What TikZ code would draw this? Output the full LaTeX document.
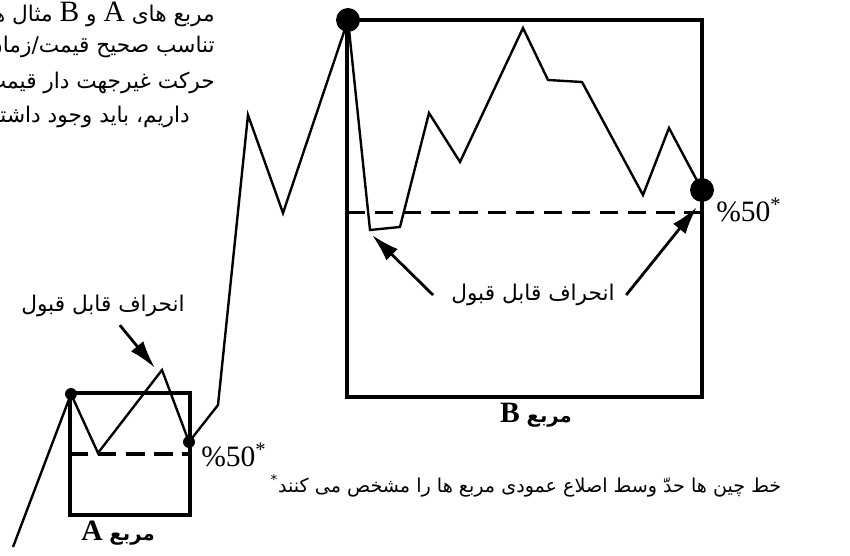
\documentclass[tikz,border=0pt]{standalone}
\usepackage{fontspec}
\setmainfont{Liberation Serif}
\newfontfamily\farsifont[Script=Arabic]{DejaVu Sans}
\TeXXeTstate=1
\usetikzlibrary{arrows.meta, calc}
\tikzset{
  square/.style={draw=black, line width=3.2pt, inner sep=0pt, outer sep=0pt},
  midline/.style={draw=black, line width=2.2pt, dash pattern=on 13pt off 7pt},
  price/.style={draw=black, line width=1.7pt, line join=miter},
  smalldot/.style={circle, fill=black, minimum size=8.5pt, inner sep=0pt},
  bigdot/.style={circle, fill=black, minimum size=17pt, inner sep=0pt},
  farsi/.style={font=\farsifont\fontsize{15.4}{18}\selectfont, inner sep=0pt},
  footnote/.style={font=\farsifont\fontsize{13.6}{16}\selectfont, inner sep=0pt},
  boxname/.style={font=\farsifont\bfseries\fontsize{14}{17}\selectfont, inner sep=0pt},
  pct/.style={font=\fontsize{21}{24}\selectfont, inner sep=0pt, anchor=west},
  arrow/.style={-{Latex[length=7mm, width=4mm]}, line width=2pt, draw=black}
}

\begin{document}
\begin{tikzpicture}[x=0.025cm, y=-0.025cm]
\useasboundingbox (0,0) rectangle (850,556);
\clip (0,0) rectangle (850,556);
\node[square, minimum width=3cm, minimum height=3.05cm] (boxA) at (130,454) {};
\node[square, minimum width=8.875cm, minimum height=9.425cm] (boxB) at (524.5,208.5) {};
\draw[midline] (boxA.west) -- (boxA.east);
\draw[midline] ([yshift=-0.11cm]boxB.west) -- ([yshift=-0.11cm]boxB.east);
\coordinate (p0) at (13,547);
\coordinate (a1) at (71,394);
\coordinate (p1) at (98,453);
\coordinate (p2) at (162,370);
\coordinate (a2) at (189,442);
\coordinate (p3) at (218,405);
\coordinate (p4) at (248,115);
\coordinate (p5) at (283,213);
\coordinate (b1) at (348,20);
\coordinate (p6) at (370,230);
\coordinate (p7) at (400,227);
\coordinate (p8) at (429,113);
\coordinate (p9) at (460,162);
\coordinate (p10) at (523,28);
\coordinate (p11) at (548,80);
\coordinate (p12) at (582,82);
\coordinate (p13) at (643,195);
\coordinate (p14) at (669,128);
\coordinate (b2) at (702,190);
\draw[price] (p0) -- (a1) -- (p1) -- (p2) -- (a2) -- (p3) -- (p4) -- (p5) -- (b1) -- (p6) -- (p7) -- (p8) -- (p9) -- (p10) -- (p11) -- (p12) -- (p13) -- (p14) -- (b2);
\node[smalldot] (dotA1) at (a1) {};
\node[smalldot] (dotA2) at (a2) {};
\node[bigdot] (dotB1) at (b1) {};
\node[bigdot] (dotB2) at (b2) {};
\coordinate (tipA) at (155,368);
\coordinate (tipB1) at (372,235);
\coordinate (tipB2) at (697,207);
\node[farsi] (labA) at (103,306) {\beginR انحراف قابل قبول\endR};
\node[farsi] (labB) at (533,295) {\beginR انحراف قابل قبول\endR};
\draw[arrow] ([xshift=0.42cm, yshift=-0.2cm]labA.south) -- (tipA);
\draw[arrow] ([xshift=-0.45cm]labB.west) -- (tipB1);
\draw[arrow] ([xshift=0.28cm]labB.east) -- (tipB2);
\node[pct] (pctA) at (201,455) {\%50\textsuperscript{*}};
\node[pct] (pctB) at (716,210) {\%50\textsuperscript{*}};
\node[boxname] (nameA) at (118,533) {\beginR مربع {\rmfamily\bfseries\fontsize{21}{24}\selectfont A}\endR};
\node[boxname] (nameB) at (536,415) {\beginR مربع {\rmfamily\bfseries\fontsize{21}{24}\selectfont B}\endR};
\node[footnote] (foot) at (526,486) {\textsuperscript{*}\beginR خط چین ها حدّ وسط اصلاع عمودی مربع ها را مشخص می کنند\endR};
\node[farsi, anchor=east] (note1) at (215,14) {\beginR مربع های {\rmfamily\fontsize{21}{24}\selectfont A} و {\rmfamily\fontsize{21}{24}\selectfont B} مثال هایی\endR};
\node[farsi, anchor=east] (note2) at (215,47) {\beginR تناسب صحیح قیمت/زمان\endR};
\node[farsi, anchor=east] (note3) at (215,83) {\beginR حرکت غیرجهت دار قیمت\endR};
\node[farsi, anchor=east] (note4) at (190,117) {\beginR داریم، باید وجود داشته\endR};
\end{tikzpicture}
\end{document}
